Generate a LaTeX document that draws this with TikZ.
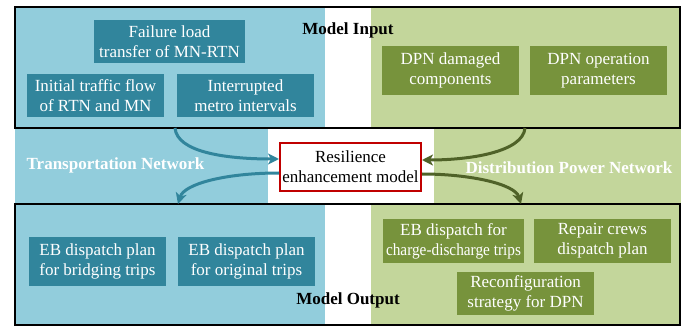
\documentclass[tikz,border=0pt]{standalone}
\usepackage{fontspec}
\setmainfont{Liberation Serif}
\usetikzlibrary{arrows.meta}

\definecolor{tnbg}{HTML}{92CDDC}
\definecolor{tnbox}{HTML}{31859C}
\definecolor{dpbg}{HTML}{C3D69B}
\definecolor{dpbox}{HTML}{77933C}
\definecolor{dparrow}{HTML}{4F6228}
\definecolor{modelred}{HTML}{C00000}

\tikzset{
  txt/.style={font=\fontsize{17}{20}\selectfont, align=center, inner sep=0pt},
  tbox/.style={txt, fill=tnbox, text=white},
  gbox/.style={txt, fill=dpbox, text=white},
  frame/.style={draw=black, line width=2pt},
  netlabel/.style={font=\fontsize{17}{20}\selectfont\bfseries, text=white, inner sep=0pt},
  seclabel/.style={font=\fontsize{17}{20}\selectfont\bfseries, inner sep=0pt},
  flow/.style={line width=3pt, -{Stealth[length=11pt,width=11pt,inset=3pt]}},
}

\begin{document}
\begin{tikzpicture}[x=1pt,y=-1pt]
\useasboundingbox (0,0) rectangle (694,326);

% network backgrounds
\fill[tnbg] (15,7) rectangle (325,128);
\fill[tnbg] (15,128) rectangle (268,204);
\fill[tnbg] (15,204) rectangle (325,325);
\fill[dpbg] (371,7) rectangle (680,128);
\fill[dpbg] (434,128) rectangle (681,204);
\fill[dpbg] (371,204) rectangle (680,325);

% input and output frames
\draw[frame] (15,7) rectangle (680,128);
\draw[frame] (15,204) rectangle (680,325);

% section labels
\node[seclabel] (inlbl) at (348,30) {Model Input};
\node[seclabel] (outlbl) at (348,300) {Model Output};
\node[netlabel] (tnlbl) at (115.5,165) {Transportation Network};
\node[netlabel] (dplbl) at (569,168) {Distribution Power Network};

% model inputs
\node[tbox, minimum width=151pt, minimum height=43pt] (fail) at (169.5,41.5) {Failure load\\transfer of MN-RTN};
\node[tbox, minimum width=137pt, minimum height=43pt] (init) at (95.5,95.5) {Initial traffic flow\\of RTN and MN};
\node[tbox, minimum width=137pt, minimum height=43pt] (intr) at (245.5,95.5) {Interrupted\\metro intervals};
\node[gbox, minimum width=137pt, minimum height=49pt] (dmg) at (450.5,70.5) {DPN damaged\\components};
\node[gbox, minimum width=137pt, minimum height=49pt] (oper) at (598.5,70.5) {DPN operation\\parameters};

% model outputs
\node[tbox, minimum width=137pt, minimum height=49pt] (ebb) at (97.5,261.5) {EB dispatch plan\\for bridging trips};
\node[tbox, minimum width=137pt, minimum height=49pt] (ebo) at (246.5,261.5) {EB dispatch plan\\for original trips};
\node[gbox, minimum width=141pt, minimum height=44pt] (ebc) at (453.5,241) {EB dispatch for\\\scalebox{0.9}[1]{charge-discharge trips}};
\node[gbox, minimum width=137pt, minimum height=44pt] (rep) at (602.5,241) {Repair crews\\dispatch plan};
\node[gbox, minimum width=137pt, minimum height=43pt] (recf) at (525.5,293.5) {Reconfiguration\\strategy for DPN};

% central model
\node[txt, draw=modelred, line width=2pt, fill=white, minimum width=141pt, minimum height=48pt] (model) at (350.5,167) {Resilience\\enhancement model};

% connector ends on the frames
\coordinate (tnin) at (175,128);
\coordinate (dpin) at (525,128);
\coordinate (tnout) at (178,204);
\coordinate (dpout) at (521,204);

% flows into and out of the model
\draw[flow, tnbox] (tnin) .. controls (177,152) and (225,159) .. (model.west |- 0,159);
\draw[flow, dparrow] (dpin) .. controls (523,152) and (470,160) .. (model.east |- 0,160);
\draw[flow, tnbox] (model.west |- 0,173) .. controls (225,173) and (184,184) .. (tnout);
\draw[flow, dparrow] (model.east |- 0,174) .. controls (470,174) and (515,184) .. (dpout);
\end{tikzpicture}
\end{document}
